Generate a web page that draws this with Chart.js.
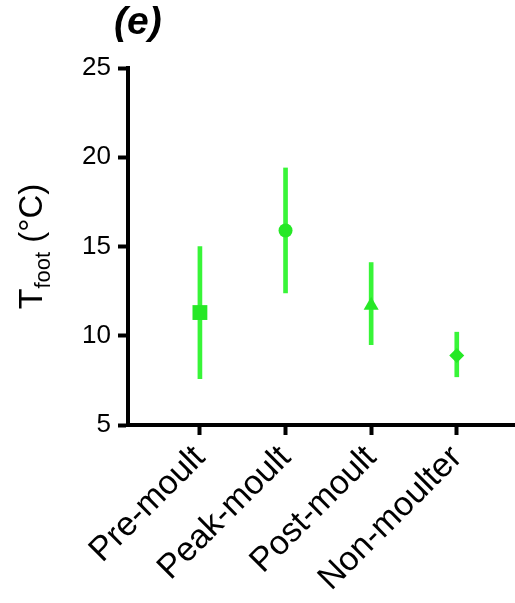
<!DOCTYPE html>
<html>
<head>
<meta charset="utf-8">
<title>Tfoot por fase de muda</title>
<script src="https://cdn.jsdelivr.net/npm/chart.js@4/dist/chart.umd.min.js"></script>
<style>
  body { margin: 0; background: #fff; }
  #wrap { width: 515px; height: 603px; }
</style>
</head>
<body>
<div id="wrap"><canvas id="myChart" width="515" height="603"></canvas></div>
<script>
// Temperatura del pie por grupo (media y rango de la barra de error)
const grupos = ['Pre-moult', 'Peak-moult', 'Post-moult', 'Non-moulter'];
const medias = [11.3, 15.9, 11.7, 8.9];
const limiteInf = [7.6, 12.4, 9.5, 7.7];
const limiteSup = [15.0, 19.4, 14.1, 10.2];
const marcadores = ['rect', 'circle', 'triangle', 'rectRot'];
const ticksY = [5, 10, 15, 20, 25];

const posiciones = grupos.map((_, i) => i + 1);
const fuente = "'Liberation Sans', Arial, sans-serif";

// Título del eje Y con subíndice y la letra del panel
const textos = {
    id: 'textos',
    afterDraw(chart) {
        const ctx = chart.ctx;
        const area = chart.chartArea;
        ctx.save();
        ctx.fillStyle = '#000';

        // (e)
        ctx.font = 'italic bold 39px ' + fuente;
        ctx.textBaseline = 'alphabetic';
        ctx.fillText('(e)', 114, 34);

        // T_foot (°C), girado
        const partes = [
            { t: 'T', size: 34, dy: 0 },
            { t: 'foot', size: 22, dy: 8 },
            { t: ' (°C)', size: 33, dy: 0 }
        ];
        let total = 0;
        partes.forEach(p => {
            ctx.font = p.size + 'px ' + fuente;
            p.w = ctx.measureText(p.t).width;
            total += p.w;
        });
        const cy = (area.top + area.bottom) / 2;
        ctx.translate(42, cy + total / 2);
        ctx.rotate(-Math.PI / 2);
        let x = 0;
        partes.forEach(p => {
            ctx.font = p.size + 'px ' + fuente;
            ctx.fillText(p.t, x, p.dy);
            x += p.w;
        });
        ctx.restore();
    }
};

function renderChart() {
    const ctx = document.getElementById('myChart').getContext('2d');
    new Chart(ctx, {
        type: 'scatter',
        data: {
            datasets: [
                {
                    // barras de error como barras flotantes
                    type: 'bar',
                    data: posiciones.map((x, i) => ({ x: x, y: [limiteInf[i], limiteSup[i]] })),
                    backgroundColor: '#38f538',
                    barThickness: 4,
                    grouped: false,
                    order: 2
                },
                {
                    type: 'scatter',
                    data: posiciones.map((x, i) => ({ x: x, y: medias[i] })),
                    showLine: false,
                    pointStyle: marcadores,
                    pointRadius: [10.5, 7, 8.7, 7.5],
                    pointBackgroundColor: '#26e826',
                    pointBorderWidth: 0,
                    order: 1
                }
            ]
        },
        options: {
            responsive: false,
            animation: false,
            layout: { autoPadding: false, padding: { top: 68, right: 0, bottom: 0, left: 0 } },
            plugins: {
                legend: { display: false },
                tooltip: { enabled: false }
            },
            scales: {
                x: {
                    type: 'linear',
                    min: 0.16,
                    max: 4.68,
                    offset: false,
                    afterBuildTicks: s => { s.ticks = posiciones.map(v => ({ value: v })); },
                    // sin relleno lateral: el eje llega hasta el borde
                    afterFit: s => { s.height = 178; s.paddingRight = 0; s.paddingLeft = 0; },
                    ticks: {
                        autoSkip: false,
                        maxRotation: 45,
                        minRotation: 45,
                        padding: 3,
                        color: '#000',
                        font: { family: fuente, size: 34 },
                        callback: v => grupos[v - 1]
                    },
                    grid: { offset: false, drawOnChartArea: false, tickLength: 10, tickWidth: 4, tickColor: '#000' },
                    border: { display: true, width: 4, color: '#000' }
                },
                y: {
                    min: 5,
                    max: 25,
                    afterBuildTicks: s => { s.ticks = ticksY.map(v => ({ value: v })); },
                    afterFit: s => { s.width = 128; },
                    ticks: {
                        padding: 7,
                        color: '#000',
                        font: { family: fuente, size: 26 }
                    },
                    grid: { drawOnChartArea: false, tickLength: 10, tickWidth: 4, tickColor: '#000' },
                    border: { display: true, width: 4, color: '#000' }
                }
            }
        },
        plugins: [textos]
    });
}

renderChart();
</script>
</body>
</html>
